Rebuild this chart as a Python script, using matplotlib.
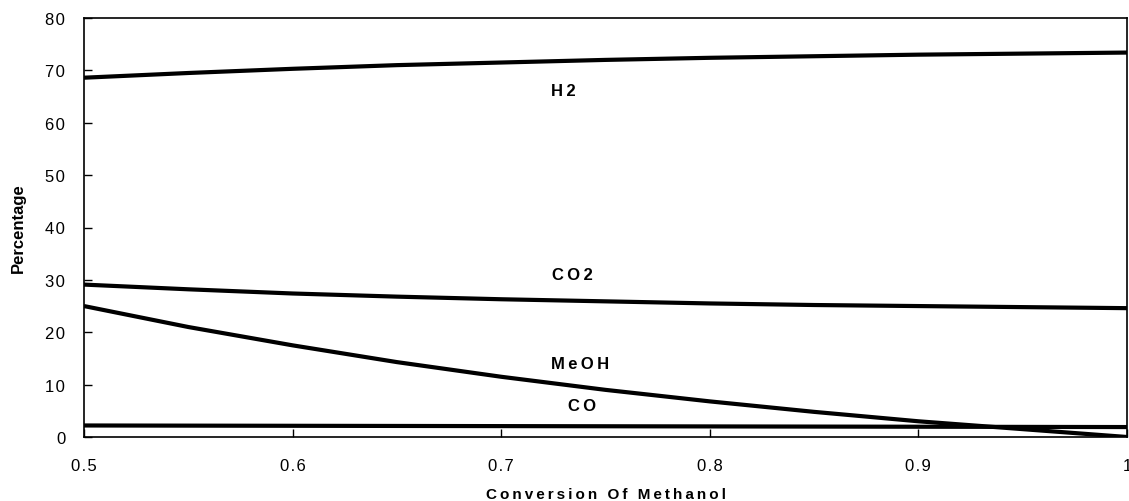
import matplotlib.pyplot as plt
import numpy as np

plt.rcParams['font.family'] = ['Liberation Sans', 'DejaVu Sans']

# Conversion of methanol (x) and product percentages
conversion = [0.5, 0.55, 0.6, 0.65, 0.7, 0.75, 0.8, 0.85, 0.9, 0.95, 1.0]
h2 = [68.6, 69.5, 70.3, 71.0, 71.5, 72.0, 72.4, 72.7, 73.0, 73.2, 73.4]
co2 = [29.1, 28.2, 27.4, 26.8, 26.3, 25.9, 25.5, 25.2, 25.0, 24.8, 24.6]
meoh = [25.0, 21.0, 17.5, 14.3, 11.5, 9.0, 6.8, 4.8, 3.0, 1.5, 0.0]
co = [2.2, 2.17, 2.14, 2.11, 2.08, 2.05, 2.02, 1.99, 1.96, 1.93, 1.9]

labels = ["H2", "CO2", "MeOH", "CO"]
label_x = [0.730, 0.734, 0.738, 0.739]
label_y = [66.2, 31.1, 14.1, 6.1]

x_ticks = [0.5, 0.6, 0.7, 0.8, 0.9, 1.0]
x_ticklabels = ["0.5", "0.6", "0.7", "0.8", "0.9", "1"]
y_ticks = list(range(0, 81, 10))


def spaced(s, sep="\u2009"):
    # old spreadsheet charts use letter-spaced text
    return sep.join(s)


fig = plt.figure(figsize=(11.29, 5.02), dpi=100)
ax = fig.add_axes([84 / 1129, 1 - 438 / 502, 1043 / 1129, 419 / 502])

for series in (h2, co2, meoh, co):
    ax.plot(conversion, series, color="black", lw=3.0, solid_capstyle="butt")

for lab, lx, ly in zip(labels, label_x, label_y):
    ax.text(lx, ly, spaced(lab), ha="center", va="center", fontsize=12,
            fontweight="bold")

ax.set_xlim(0.5, 1.0)
ax.set_ylim(0, 80)
ax.set_xticks(x_ticks)
ax.set_xticklabels([spaced(t, "\u200a") for t in x_ticklabels])
ax.set_yticks(y_ticks)
ax.set_yticklabels([spaced(str(t), "\u200a") for t in y_ticks])
ax.tick_params(direction="in", length=6, width=1, labelsize=12)
ax.tick_params(axis="x", pad=15)
ax.tick_params(axis="y", pad=13.5)
for sp in ax.spines.values():
    sp.set_linewidth(1.2)

ax.set_xlabel(spaced("Conversion Of Methanol"), fontsize=11,
              fontweight="bold", labelpad=10)
ax.set_ylabel("Percentage", fontsize=12, fontweight="bold", labelpad=14)

fig.savefig("out.png", dpi=100)
